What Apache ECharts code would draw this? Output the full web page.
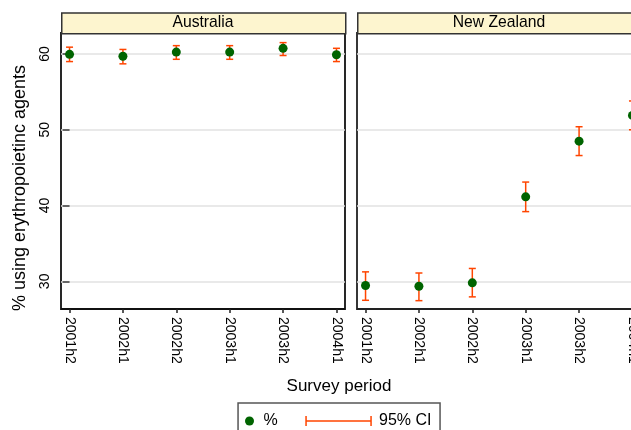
<!DOCTYPE html>
<html>
<head>
<meta charset="utf-8">
<script src="https://cdn.jsdelivr.net/npm/echarts@6/dist/echarts.min.js"></script>
<style>
html,body{margin:0;padding:0;background:#fff;overflow:hidden;width:631px;height:430px;}
#chart{width:650px;height:430px;}
</style>
</head>
<body>
<div id="chart"></div>
<script>
var periods = ['2001h2','2002h1','2002h2','2003h1','2003h2','2004h1'];
var panels = ['Australia','New Zealand'];
var ausPct = [59.95, 59.7, 60.25, 60.25, 60.75, 59.9];
var ausLo  = [59.0, 58.7, 59.3, 59.3, 59.8, 59.0];
var ausHi  = [60.9, 60.6, 61.1, 61.1, 61.5, 60.75];
var nzPct  = [29.45, 29.35, 29.8, 41.15, 48.5, 51.9];
var nzLo   = [27.5, 27.45, 27.95, 39.2, 46.6, 50.0];
var nzHi   = [31.25, 31.1, 31.7, 43.1, 50.4, 53.8];
var yTicks = [30, 40, 50, 60];
var xTicks = [0, 1, 2, 3, 4, 5];

var FONT = 'Liberation Sans, Arial, Helvetica, sans-serif';
var GREEN = '#006400';
var ORANGE = '#ff4500';

var chart = echarts.init(document.getElementById('chart'));

function pts(vals){ return vals.map(function(v,i){ return [i, v]; }); }
function cis(lo, hi){ return lo.map(function(v,i){ return [i, v, hi[i]]; }); }

function renderCI(params, api){
  var x = api.value(0), lo = api.value(1), hi = api.value(2);
  var t = api.coord([x, hi]), b = api.coord([x, lo]);
  var w = 3.5;
  var st = {stroke: ORANGE, lineWidth: 1.5, fill: null};
  return {type:'group', children:[
    {type:'line', shape:{x1:t[0], y1:t[1], x2:b[0], y2:b[1]}, style:st},
    {type:'line', shape:{x1:t[0]-w, y1:t[1], x2:t[0]+w, y2:t[1]}, style:st},
    {type:'line', shape:{x1:b[0]-w, y1:b[1], x2:b[0]+w, y2:b[1]}, style:st}
  ]};
}

function xAxis(gi){
  return {
    type:'value', gridIndex:gi, min:-0.16, max:5.16,
    axisLine:{show:false},
    axisTick:{show:true, customValues:xTicks, length:4, lineStyle:{color:'#222', width:1.5}},
    axisLabel:{show:true, customValues:xTicks, rotate:-90, margin:8,
      color:'#000', fontSize:14, fontFamily:FONT,
      formatter:function(v){ return periods[Math.round(v)] || ''; }},
    splitLine:{show:false}
  };
}
function yAxis(gi, labels){
  return {
    type:'value', gridIndex:gi, min:26.35, max:62.77,
    axisLine:{show:false},
    axisTick:{show:labels, customValues:yTicks, length:7, lineStyle:{color:'#666', width:2}},
    axisLabel:{show:labels, customValues:yTicks, rotate:90, margin:9,
      color:'#000', fontSize:14, fontFamily:FONT},
    splitLine:{show:true, customValues:yTicks, lineStyle:{color:'#e2e2e2', width:1.5}}
  };
}

var gridW = 284, gridH = 276, gridTop = 33;
var gridLefts = [61, 357];

var graphics = [];
panels.forEach(function(name, i){
  graphics.push({
    type:'rect', left:gridLefts[i], top:12.3, z:10,
    shape:{width:gridW, height:20.7},
    style:{fill:'#fdf5cf', stroke:'#333', lineWidth:1.5}
  });
  graphics.push({
    type:'text', x:gridLefts[i] + gridW/2, y:22.7, z:11,
    style:{text:name, fill:'#000', font:'15.7px ' + FONT, align:'center', verticalAlign:'middle'}
  });
});
graphics.push({
  type:'text', x:20, y:188, rotation:Math.PI/2, z:11,
  style:{text:'% using erythropoietinc agents', fill:'#000', font:'18px ' + FONT, align:'center', verticalAlign:'middle'}
});
graphics.push({
  type:'text', x:339, y:386.5, z:11,
  style:{text:'Survey period', fill:'#000', font:'17px ' + FONT, align:'center', verticalAlign:'middle'}
});
graphics.push({
  type:'rect', left:237.3, top:402.3, z:1,
  shape:{width:202, height:40},
  style:{fill:'#fff', stroke:'#555', lineWidth:1.5}
});

chart.setOption({
  animation:false,
  backgroundColor:'#fff',
  grid:[
    {left:gridLefts[0], top:gridTop, width:gridW, height:gridH, show:true, borderColor:'#111', borderWidth:1.8, backgroundColor:'transparent'},
    {left:gridLefts[1], top:gridTop, width:gridW, height:gridH, show:true, borderColor:'#222', borderWidth:1.8, backgroundColor:'transparent'}
  ],
  xAxis:[xAxis(0), xAxis(1)],
  yAxis:[yAxis(0, true), yAxis(1, false)],
  legend:[
    {left:240, top:408, itemWidth:18, itemHeight:9, itemGap:0, z:5,
     data:[{name:'%', icon:'circle', itemStyle:{color:GREEN, opacity:1}}],
     textStyle:{fontSize:16, fontFamily:FONT, color:'#000'}, selectedMode:false},
    {left:300.3, top:408, itemWidth:65, itemHeight:10, itemGap:0, z:5,
     data:[{name:'95% CI', icon:'path://M0,0L0,10M0,5L65,5M65,0L65,10',
            itemStyle:{color:'transparent', borderColor:ORANGE, borderWidth:1.5}}],
     textStyle:{fontSize:16, fontFamily:FONT, color:'#000', padding:[0,0,0,3]}, selectedMode:false}
  ],
  graphic:graphics,
  series:[
    {name:'95% CI', type:'custom', xAxisIndex:0, yAxisIndex:0, renderItem:renderCI,
     itemStyle:{color:ORANGE}, encode:{x:0, y:[1,2]}, data:cis(ausLo, ausHi), z:2},
    {name:'95% CI', type:'custom', xAxisIndex:1, yAxisIndex:1, renderItem:renderCI,
     itemStyle:{color:ORANGE}, encode:{x:0, y:[1,2]}, data:cis(nzLo, nzHi), z:2},
    {name:'%', type:'scatter', xAxisIndex:0, yAxisIndex:0, symbol:'circle', symbolSize:9,
     itemStyle:{color:GREEN, opacity:1}, data:pts(ausPct), z:3},
    {name:'%', type:'scatter', xAxisIndex:1, yAxisIndex:1, symbol:'circle', symbolSize:9,
     itemStyle:{color:GREEN, opacity:1}, data:pts(nzPct), z:3}
  ]
});
</script>
</body>
</html>
